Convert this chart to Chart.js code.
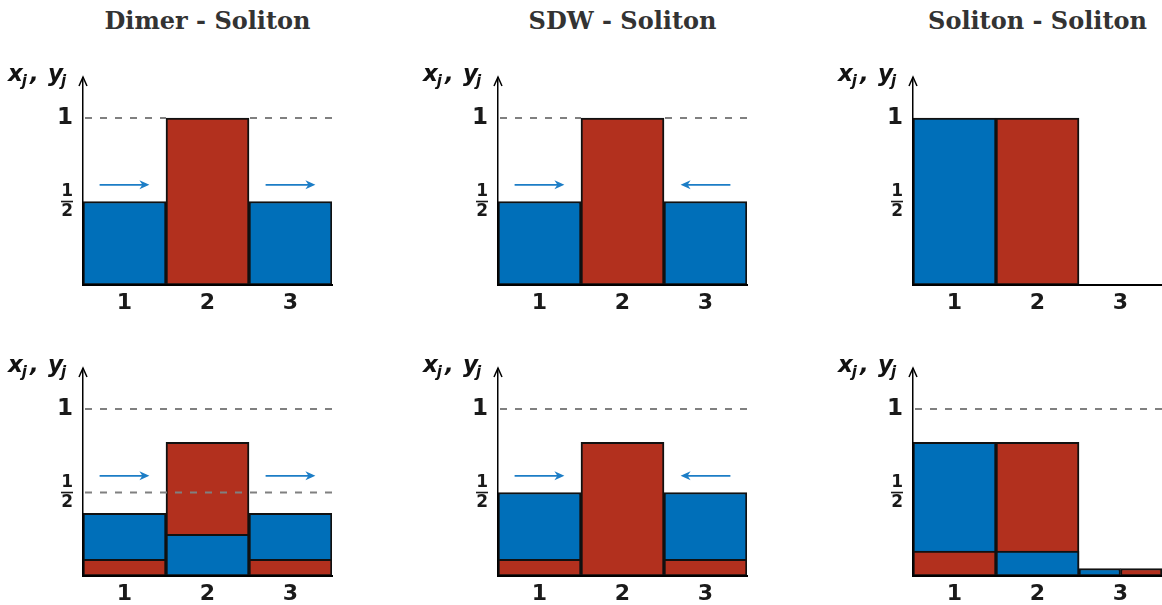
<!DOCTYPE html>
<html>
<head>
<meta charset="utf-8">
<script src="https://cdn.jsdelivr.net/npm/chart.js@4.4.1/dist/chart.umd.min.js"></script>
<style>
  body { margin: 0; background: #fff; width: 1162px; height: 605px; overflow: hidden; position: relative; }
  canvas { position: absolute; }
  .title { position: absolute; width: 336px; height: 30px; line-height: 30px; text-align: center;
           font: bold 24px "DejaVu Serif", serif; color: #333; }
</style>
</head>
<body>
<script>
const sites = ['1', '2', '3'];
const titles = ['Dimer - Soliton', 'SDW - Soliton', 'Soliton - Soliton'];

// x_j (blue) and y_j (red), one array per panel, top row then bottom row
const xTop = [[0.5, 0, 0.5], [0.5, 0, 0.5], [1, 0, 0]];
const yTop = [[0, 1, 0], [0, 1, 0], [0, 1, 0]];
const xBottom = [[0.375, 0.25, 0.375], [0.5, 0, 0.5], [0.8, 0.15, 0.045]];
const yBottom = [[0.1, 0.8, 0.1], [0.1, 0.8, 0.1], [0.15, 0.8, 0.045]];

// arrow direction per site (1 right, -1 left, 0 none), same on both rows
const arrowDirs = [[1, 0, 1], [1, 0, -1], [0, 0, 0]];
const arrowLevel = 0.6;

// dashed reference levels
const dashTop = [[1], [1], []];
const dashBottom = [[0.5, 1], [1], [1]];
const yTicks = [0.5, 1];

const blue = '#006fb9';
const red = '#b2301e';
const arrowBlue = '#1c7dc6';
const family = '"DejaVu Sans", sans-serif';

// larger value goes behind, smaller in front; equal values share the slot side by side
function buildDatasets(x, y) {
    const back = [], front = [], backCol = [], frontCol = [], sideX = [], sideY = [];
    x.forEach((xv, i) => {
        const yv = y[i];
        if (xv === yv) {
            back.push(null); front.push(null);
            backCol.push(blue); frontCol.push(red);
            sideX.push(xv > 0 ? xv : null);
            sideY.push(yv > 0 ? yv : null);
        } else {
            const xBig = xv > yv;
            const lo = Math.min(xv, yv);
            back.push(Math.max(xv, yv));
            backCol.push(xBig ? blue : red);
            front.push(lo > 0 ? lo : null);
            frontCol.push(xBig ? red : blue);
            sideX.push(null); sideY.push(null);
        }
    });
    const common = { borderColor: '#111', borderWidth: 2, borderSkipped: false,
                     barPercentage: 1, categoryPercentage: 1 };
    return [
        { ...common, label: 'front', data: front, backgroundColor: frontCol, grouped: false, order: 0 },
        { ...common, label: 'back', data: back, backgroundColor: backCol, grouped: false, order: 1 },
        { ...common, label: 'x side', data: sideX, backgroundColor: blue, grouped: true, order: 0 },
        { ...common, label: 'y side', data: sideY, backgroundColor: red, grouped: true, order: 0 }
    ];
}

function hArrow(ctx, x0, x1, y) {
    const dir = Math.sign(x1 - x0);
    ctx.save();
    ctx.strokeStyle = arrowBlue;
    ctx.fillStyle = arrowBlue;
    ctx.lineWidth = 1.6;
    ctx.beginPath();
    ctx.moveTo(x0, y);
    ctx.lineTo(x1 - dir * 4, y);
    ctx.stroke();
    ctx.beginPath();
    ctx.moveTo(x1, y);
    ctx.lineTo(x1 - dir * 10, y - 4.5);
    ctx.lineTo(x1 - dir * 7, y);
    ctx.lineTo(x1 - dir * 10, y + 4.5);
    ctx.closePath();
    ctx.fill();
    ctx.restore();
}

const decor = {
    id: 'decor',
    afterDatasetsDraw(chart, args, opts) {
        const { ctx, chartArea: a, scales: { x, y } } = chart;
        const bars = [];
        chart.getSortedVisibleDatasetMetas().forEach(m => {
            const data = chart.data.datasets[m.index].data;
            m.data.forEach((el, i) => { if (data[i] != null) bars.push(el); });
        });
        opts.dashes.forEach(v => {
            const py = y.getPixelForValue(v);
            ctx.save();
            ctx.beginPath();
            ctx.rect(a.left, py - 3, a.right - a.left, 6);
            bars.forEach(b => {
                if (Math.abs(b.y - py) < 2) ctx.rect(b.x - b.width / 2, py - 3, b.width, 6);
            });
            ctx.clip('evenodd');
            ctx.setLineDash([7, 8]);
            ctx.strokeStyle = '#808080';
            ctx.lineWidth = 2;
            ctx.beginPath();
            ctx.moveTo(a.left + 2, py);
            ctx.lineTo(a.right, py);
            ctx.stroke();
            ctx.restore();
        });
        const w = x.getPixelForValue(1) - x.getPixelForValue(0);
        const py = y.getPixelForValue(arrowLevel);
        opts.arrows.forEach((d, i) => {
            if (!d) return;
            const cx = x.getPixelForValue(i);
            hArrow(ctx, cx - d * 0.3 * w, cx + d * 0.3 * w, py);
        });
    },
    afterDraw(chart) {
        const { ctx, chartArea: a, scales: { y } } = chart;
        ctx.save();
        // arrow head on the value axis
        ctx.strokeStyle = '#000';
        ctx.lineWidth = 1.5;
        ctx.beginPath();
        ctx.moveTo(a.left - 4, a.top + 8);
        ctx.lineTo(a.left, a.top - 1);
        ctx.lineTo(a.left + 4, a.top + 8);
        ctx.stroke();
        // fraction bar of the 1/2 tick
        const fy = y.getPixelForValue(0.5);
        ctx.strokeStyle = '#1a1a1a';
        ctx.lineWidth = 1.6;
        ctx.beginPath();
        ctx.moveTo(a.left - 22, fy);
        ctx.lineTo(a.left - 10, fy);
        ctx.stroke();
        // axis label x_j, y_j
        ctx.fillStyle = '#111';
        ctx.textBaseline = 'alphabetic';
        const big = 'italic bold 23px ' + family;
        const small = 'italic bold 15px ' + family;
        const base = a.top + 3;
        let px = 8;
        const put = (t, f, dy, gap) => {
            ctx.font = f;
            ctx.fillText(t, px, base + dy);
            px += ctx.measureText(t).width + gap;
        };
        put('x', big, 0, -1);
        put('j', small, 5, 3);
        put(',', big, 0, 0);
        px = 48;
        put('y', big, 0, -2);
        put('j', small, 5, 0);
        ctx.restore();
    }
};

function makeChart(left, top, x, y, dashes, arrows) {
    const canvas = document.createElement('canvas');
    canvas.width = 336;
    canvas.height = 270;
    canvas.style.left = left + 'px';
    canvas.style.top = top + 'px';
    document.body.appendChild(canvas);
    return new Chart(canvas.getContext('2d'), {
        type: 'bar',
        data: { labels: sites, datasets: buildDatasets(x, y) },
        plugins: [decor],
        options: {
            responsive: false,
            animation: false,
            layout: { padding: { top: 28, right: 4, left: 0, bottom: 0 } },
            plugins: {
                legend: { display: false },
                tooltip: { enabled: false },
                decor: { dashes, arrows }
            },
            scales: {
                x: {
                    stacked: false,
                    afterFit: s => { s.height = 35; },
                    grid: { display: false, drawTicks: false },
                    border: { display: true, color: '#000', width: 2, z: 1 },
                    ticks: { padding: 5, color: '#1a1a1a', maxRotation: 0,
                             font: { family, size: 22, weight: 'bold' } }
                },
                y: {
                    min: 0,
                    max: 1.24,
                    stacked: false,
                    afterFit: s => { s.width = 83; },
                    afterBuildTicks: s => { s.ticks = yTicks.map(v => ({ value: v })); },
                    grid: { display: false, drawTicks: false },
                    border: { display: true, color: '#000', width: 1.5, z: 1 },
                    ticks: {
                        padding: 10,
                        color: '#1a1a1a',
                        callback: v => v === 1 ? '1' : ['1', '2'],
                        font: c => c.tick && c.tick.value === 1
                            ? { family, size: 23, weight: 'bold' }
                            : { family, size: 17, weight: 'bold', lineHeight: 1.15 }
                    }
                }
            }
        }
    });
}

const colLeft = [0, 415, 830];
titles.forEach((t, k) => {
    const div = document.createElement('div');
    div.className = 'title';
    div.textContent = t;
    div.style.left = (colLeft[k] + 39.5) + 'px';
    div.style.top = '6px';
    document.body.appendChild(div);
    makeChart(colLeft[k], 50, xTop[k], yTop[k], dashTop[k], arrowDirs[k]);
    makeChart(colLeft[k], 341, xBottom[k], yBottom[k], dashBottom[k], arrowDirs[k]);
});
</script>
</body>
</html>
